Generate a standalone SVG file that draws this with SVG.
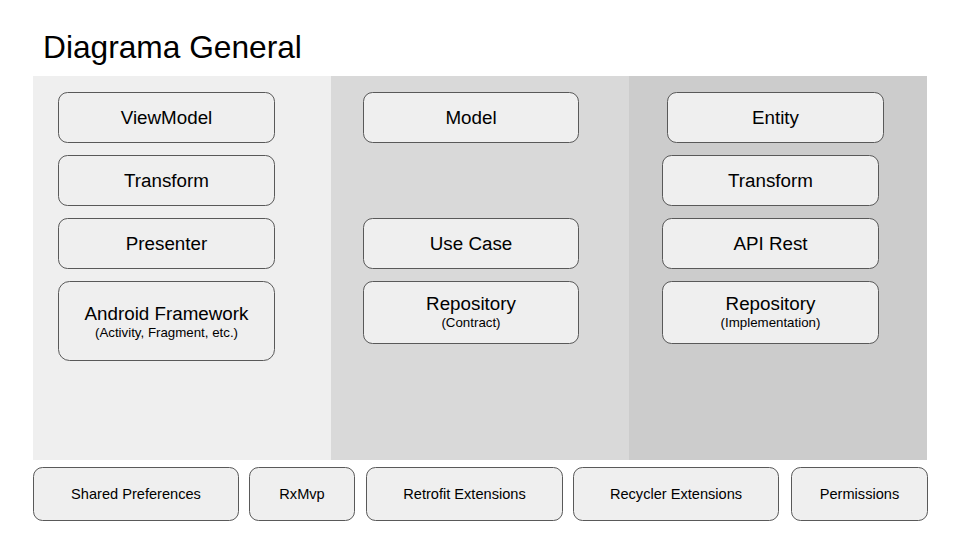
<svg xmlns="http://www.w3.org/2000/svg" width="960" height="540" viewBox="0 0 960 540">
<style>
.box{fill:#efefef;stroke:#595959;stroke-width:1}
.t{font-family:"Liberation Sans",Arial,sans-serif;font-size:18.8px;fill:#000;text-anchor:middle}
.s{font-family:"Liberation Sans",Arial,sans-serif;font-size:13.3px;fill:#000;text-anchor:middle}
.b{font-family:"Liberation Sans",Arial,sans-serif;font-size:14.6px;fill:#000;text-anchor:middle}
</style>
<rect width="960" height="540" fill="#ffffff"/>
<text x="43" y="58" font-family="'Liberation Sans',Arial,sans-serif" font-size="31.7" fill="#000">Diagrama General</text>
<g id="panels">
<rect x="33" y="76" width="298" height="384" fill="#efefef"/>
<rect x="331" y="76" width="298" height="384" fill="#d9d9d9"/>
<rect x="629" y="76" width="298" height="384" fill="#cccccc"/>
</g>
<g id="connectors"></g>
<g id="viewmodel"><rect class="box" x="58.5" y="92.5" width="216" height="50" rx="9"/><text class="t" x="166.5" y="124">ViewModel</text></g>
<g id="transform-left"><rect class="box" x="58.5" y="155.5" width="216" height="50" rx="9"/><text class="t" x="166.5" y="187">Transform</text></g>
<g id="presenter"><rect class="box" x="58.5" y="218.5" width="216" height="50" rx="9"/><text class="t" x="166.5" y="250">Presenter</text></g>
<g id="android-framework"><rect class="box" x="58.5" y="281.5" width="216" height="79" rx="11"/><text class="t" x="166.5" y="320">Android Framework</text><text class="s" x="166.5" y="336.5">(Activity, Fragment, etc.)</text></g>
<g id="model"><rect class="box" x="363.5" y="92.5" width="215" height="50" rx="9"/><text class="t" x="471" y="124">Model</text></g>
<g id="use-case"><rect class="box" x="363.5" y="218.5" width="215" height="50" rx="9"/><text class="t" x="471" y="250">Use Case</text></g>
<g id="repository-contract"><rect class="box" x="363.5" y="281.5" width="215" height="62" rx="9"/><text class="t" x="471" y="310">Repository</text><text class="s" x="471" y="326.5">(Contract)</text></g>
<g id="entity"><rect class="box" x="667.5" y="92.5" width="216" height="50" rx="9"/><text class="t" x="775.5" y="124">Entity</text></g>
<g id="transform-right"><rect class="box" x="662.5" y="155.5" width="216" height="50" rx="9"/><text class="t" x="770.5" y="187">Transform</text></g>
<g id="api-rest"><rect class="box" x="662.5" y="218.5" width="216" height="50" rx="9"/><text class="t" x="770.5" y="250">API Rest</text></g>
<g id="repository-impl"><rect class="box" x="662.5" y="281.5" width="216" height="62" rx="9"/><text class="t" x="770.5" y="310">Repository</text><text class="s" x="770.5" y="326.5">(Implementation)</text></g>
<g id="shared-preferences"><rect class="box" x="33.5" y="467.5" width="205" height="53" rx="9"/><text class="b" x="136" y="498.5">Shared Preferences</text></g>
<g id="rxmvp"><rect class="box" x="249.5" y="467.5" width="105" height="53" rx="9"/><text class="b" x="302" y="498.5">RxMvp</text></g>
<g id="retrofit-extensions"><rect class="box" x="366.5" y="467.5" width="196" height="53" rx="9"/><text class="b" x="464.5" y="498.5">Retrofit Extensions</text></g>
<g id="recycler-extensions"><rect class="box" x="573.5" y="467.5" width="205" height="53" rx="9"/><text class="b" x="676" y="498.5">Recycler Extensions</text></g>
<g id="permissions"><rect class="box" x="791.5" y="467.5" width="136" height="53" rx="9"/><text class="b" x="859.5" y="498.5">Permissions</text></g>
</svg>
